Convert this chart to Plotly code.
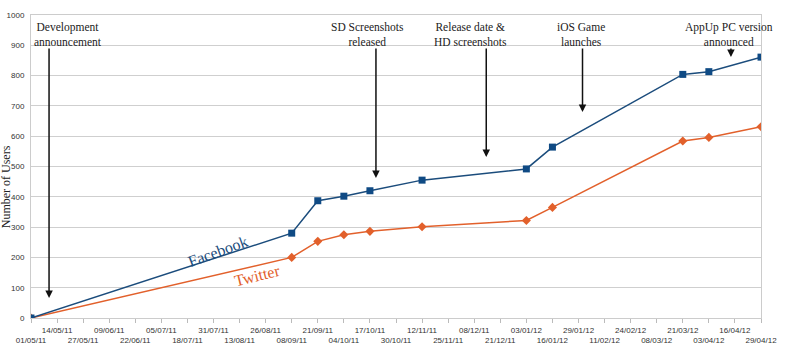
import plotly.graph_objects as go
from datetime import date, timedelta

# ---- data ----
dates = ["2011-05-01", "2011-09-08", "2011-09-21", "2011-10-04", "2011-10-17",
         "2011-11-12", "2012-01-03", "2012-01-16", "2012-03-21", "2012-04-03", "2012-04-29"]
facebook = [0, 280, 387, 402, 420, 455, 492, 564, 804, 813, 861]
twitter = [0, 200, 253, 275, 286, 301, 322, 365, 584, 596, 631]

event_labels = ["Development<br>announcement", "SD Screenshots<br>released",
                "Release date &amp;<br>HD screenshots", "iOS Game<br>launches",
                "AppUp PC version<br>announced"]
event_dates = ["2011-05-10", "2011-10-20", "2011-12-14", "2012-01-31", "2012-04-14"]
event_text_dates = ["2011-05-19 12:00", "2011-10-16", "2011-12-06", "2012-01-30", "2012-04-13"]
event_tip_values = [66, 462, 531, 680, 861]

start = date(2011, 5, 1)
tick_dates = [start + timedelta(days=13 * i) for i in range(29)]
tick_vals = [d.isoformat() for d in tick_dates]
tick_text = [(" <br>" if i % 2 == 0 else "") + d.strftime("%d/%m/%y") for i, d in enumerate(tick_dates)]

FB = "#1b4c7c"
TW = "#e2602b"
SERIF = "Liberation Serif"
SANS = "Liberation Sans"

fig = go.Figure()
fig.add_trace(go.Scatter(x=dates, y=twitter, mode="lines+markers", name="Twitter",
                         line=dict(color=TW, width=1.5),
                         marker=dict(symbol="diamond", size=7, color=TW)))
fig.add_trace(go.Scatter(x=dates, y=facebook, mode="lines+markers", name="Facebook",
                         line=dict(color=FB, width=1.5),
                         marker=dict(symbol="square", size=7, color="#0f4a84")))

for lab, d, td, tip in zip(event_labels, event_dates, event_text_dates, event_tip_values):
    fig.add_annotation(x=d, y=tip, ax=d, ay=894, xref="x", yref="y", axref="x", ayref="y",
                       text="", showarrow=True, arrowhead=2, arrowsize=1, arrowwidth=1.5,
                       arrowcolor="#111")
    fig.add_annotation(x=td, y=937, xref="x", yref="y", text=lab, showarrow=False,
                       xanchor="center", yanchor="middle", align="center",
                       font=dict(family=SERIF, size=11.5, color="#222"))

fig.add_annotation(x="2011-08-02", y=218, text="Facebook", showarrow=False, textangle=-20,
                   font=dict(family=SERIF, size=16, color=FB))
fig.add_annotation(x="2011-08-22", y=139, text="Twitter", showarrow=False, textangle=-14,
                   font=dict(family=SERIF, size=16, color=TW))
fig.add_annotation(x=-0.034, y=0.432, xref="paper", yref="paper", text="Number of Users",
                   showarrow=False, textangle=-90, xanchor="center", yanchor="middle",
                   font=dict(family=SERIF, size=12, color="#222"))

fig.update_layout(
    width=800, height=352,
    margin=dict(l=31, r=39, t=15, b=34),
    paper_bgcolor="white", plot_bgcolor="white",
    showlegend=False,
    xaxis=dict(type="date", range=["2011-05-01", "2012-04-29"], automargin=False,
               tickmode="array", tickvals=tick_vals, ticktext=tick_text,
               tickangle=0, ticks="outside", ticklen=4, tickcolor="#bbb",
               showgrid=False, showline=True, linecolor="#ccc", mirror=True,
               tickfont=dict(family=SANS, size=8, color="#333"),
               zeroline=False),
    yaxis=dict(range=[0, 1000], dtick=100, showgrid=True, gridcolor="#cfcfcf",
               showline=True, linecolor="#ccc", mirror=True, zeroline=False,
               ticks="", ticklabelstandoff=4, automargin=False,
               tickfont=dict(family=SANS, size=8, color="#333")),
)

fig.write_html("out.html")
